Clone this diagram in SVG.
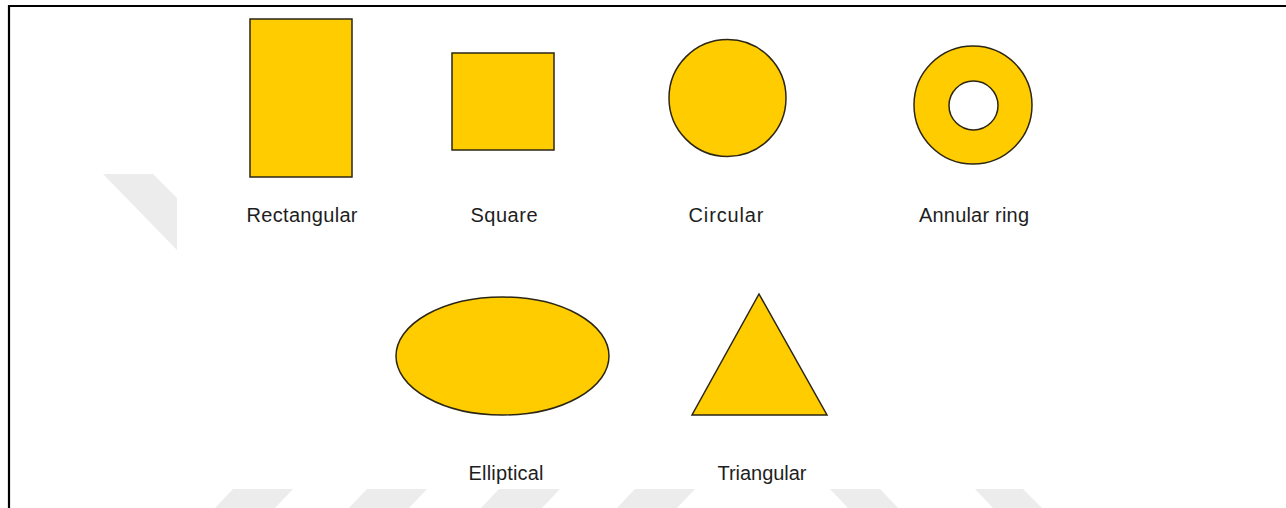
<svg xmlns="http://www.w3.org/2000/svg" width="1286" height="508" viewBox="0 0 1286 508">
<style>
.shape{fill:#ffcc00;stroke:#2b2614;stroke-width:1.5}
.lbl{font-family:"Liberation Sans",Arial,sans-serif;font-size:20px;fill:#1e1e1e;text-anchor:middle}
.wm{fill:#ececec}
</style>
<rect width="1286" height="508" fill="#ffffff"/>
<g id="watermark">
<polygon class="wm" points="103,174 153,174 177,198 177,250"/>
<polygon class="wm" points="233,489 293,489 275,508 215,508"/>
<polygon class="wm" points="367,489 427,489 409,508 349,508"/>
<polygon class="wm" points="499,489 560,489 542,508 481,508"/>
<polygon class="wm" points="635,489 695,489 677,508 617,508"/>
<polygon class="wm" points="830,489 880,489 898,508 848,508"/>
<polygon class="wm" points="975,489 1023,489 1042,508 993,508"/>
</g>
<path id="frame" d="M9,508 V6 H1286" fill="none" stroke="#000" stroke-width="2.2"/>
<g id="rectangular">
<rect class="shape" x="250" y="19" width="102" height="158"/>
<text class="lbl" x="302" y="222" textLength="111">Rectangular</text>
</g>
<g id="square">
<rect class="shape" x="452" y="53" width="102" height="97"/>
<text class="lbl" x="504" y="222" textLength="67">Square</text>
</g>
<g id="circular">
<circle class="shape" cx="727.5" cy="98" r="58.5"/>
<text class="lbl" x="726" y="222" textLength="75">Circular</text>
</g>
<g id="annular-ring">
<path class="shape" fill-rule="evenodd" d="M914,105 a59,59 0 1,0 118,0 a59,59 0 1,0 -118,0 Z M949,105.5 a24.5,24.5 0 1,0 49,0 a24.5,24.5 0 1,0 -49,0 Z"/>
<text class="lbl" x="974" y="222" textLength="110">Annular ring</text>
</g>
<g id="elliptical">
<ellipse class="shape" cx="502.5" cy="356" rx="106.5" ry="59"/>
<text class="lbl" x="506" y="480" textLength="75">Elliptical</text>
</g>
<g id="triangular">
<polygon class="shape" points="759,294 827,415 692,415"/>
<text class="lbl" x="762" y="480" textLength="89">Triangular</text>
</g>
<g id="connectors"/>
</svg>
